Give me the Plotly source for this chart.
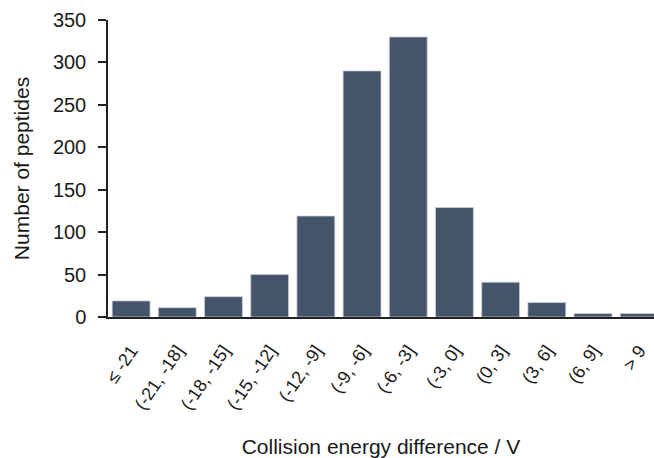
import plotly.graph_objects as go

categories = ["≤ -21", "(-21, -18]", "(-18, -15]", "(-15, -12]", "(-12, -9]", "(-9, -6]",
              "(-6, -3]", "(-3, 0]", "(0, 3]", "(3, 6]", "(6, 9]", "> 9"]
counts = [19, 11, 24, 50, 119, 290, 330, 129, 41, 17, 4, 4]
y_ticks = [0, 50, 100, 150, 200, 250, 300, 350]

FONT = "Arial, Liberation Sans, sans-serif"

fig = go.Figure(go.Bar(
    x=list(range(len(categories))),
    y=counts,
    marker=dict(color="#44546A", line=dict(color="#c9ced6", width=0.8)),
))

fig.update_layout(
    width=654, height=458,
    margin=dict(l=108, r=0, t=20, b=141),
    paper_bgcolor="white", plot_bgcolor="white",
    bargap=0.18,
    showlegend=False,
    font=dict(family=FONT, color="#1a1a1a"),
)
fig.update_xaxes(
    range=[-0.5, 11.32],
    tickmode="array", tickvals=list(range(len(categories))), ticktext=categories,
    tickangle=-56, tickfont=dict(size=18),
    ticklabelstandoff=14,
    showline=True, linecolor="#222222", linewidth=2,
    ticks="", showgrid=False, zeroline=False,
    title=dict(text="Collision energy difference / V", font=dict(size=21), standoff=29),
)
fig.update_yaxes(
    range=[0, 350], tickmode="array", tickvals=y_ticks,
    tickfont=dict(size=20),
    ticklabelstandoff=8,
    showline=True, linecolor="#222222", linewidth=1.5,
    ticks="outside", ticklen=8, tickwidth=1.5, tickcolor="#222222",
    showgrid=False, zeroline=False,
    title=dict(text="Number of peptides", font=dict(size=21), standoff=18),
)

fig.write_html("out.html")
